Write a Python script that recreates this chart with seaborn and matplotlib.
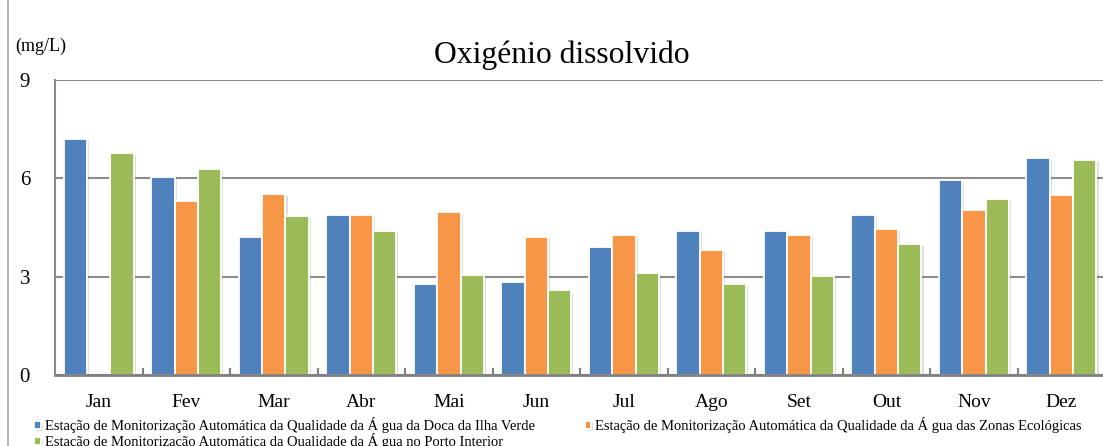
import matplotlib
matplotlib.use("Agg")
import matplotlib.pyplot as plt
import matplotlib.patheffects as pe
from matplotlib.lines import Line2D
import seaborn as sns
import pandas as pd
import numpy as np

# Data (mg/L)
months = ["Jan", "Fev", "Mar", "Abr", "Mai", "Jun",
          "Jul", "Ago", "Set", "Out", "Nov", "Dez"]
stations = [
    "Estação de Monitorização Automática da Qualidade da Á gua da Doca da Ilha Verde",
    "Estação de Monitorização Automática da Qualidade da Á gua das Zonas Ecológicas",
    "Estação de Monitorização Automática da Qualidade da Á gua no Porto Interior",
]
ilha_verde = [7.21, 6.05, 4.21, 4.88, 2.78, 2.84, 3.92, 4.39, 4.39, 4.88, 5.94, 6.62]
zonas_ecologicas = [np.nan, 5.32, 5.53, 4.87, 4.96, 4.21, 4.27, 3.81, 4.26, 4.45, 5.03, 5.50]
porto_interior = [6.77, 6.30, 4.84, 4.39, 3.05, 2.58, 3.12, 2.78, 3.01, 4.00, 5.38, 6.55]
colors = ["#4F81BD", "#F79646", "#9BBB59"]

df = pd.DataFrame({
    "Mês": months * 3,
    "Estação": [s for s in stations for _ in months],
    "valor": ilha_verde + zonas_ecologicas + porto_interior,
})

sns.set_style("white")
plt.rcParams["font.family"] = ["Liberation Serif", "DejaVu Serif"]
plt.rcParams["text.color"] = "black"
plt.rcParams["xtick.labelcolor"] = "black"
plt.rcParams["ytick.labelcolor"] = "black"

fig = plt.figure(figsize=(11.03, 4.46), dpi=100)
ax = fig.add_axes([55 / 1103, 1 - 375 / 446, 1052 / 1103, 295 / 446])

sns.barplot(data=df, x="Mês", y="valor", hue="Estação", palette=colors,
            order=months, hue_order=stations, width=0.8, saturation=1,
            edgecolor="white", linewidth=1.3, errorbar=None, ax=ax)

for bar in ax.patches:
    bar.set_path_effects([pe.SimplePatchShadow(offset=(1.5, -1.5), shadow_rgbFace="#808080", alpha=0.25),
                          pe.Normal()])

ax.set_ylim(0, 9)
ax.set_yticks([0, 3, 6, 9])
ax.set_xlim(-0.5, 11.52)
ax.grid(axis="y", color="#8C8C8C", linewidth=1.5)
ax.set_axisbelow(True)
ax.set_xlabel("")
ax.set_ylabel("")

for side in ["top", "right"]:
    ax.spines[side].set_visible(False)
ax.spines["left"].set_color("#8C8C8C")
ax.spines["left"].set_linewidth(1.5)
ax.spines["bottom"].set_color("#7F7F7F")
ax.spines["bottom"].set_linewidth(2)

ax.tick_params(axis="y", length=0, pad=18, labelsize=15, labelcolor="black")
ax.tick_params(axis="x", which="major", length=0, pad=14, labelsize=14, labelcolor="black")
ax.set_xticks(np.arange(-0.5, 12, 1), minor=True)
ax.tick_params(axis="x", which="minor", bottom=True, direction="in", length=5,
               width=1.5, color="#7F7F7F")

fig.text(15 / 1103, 1 - 46 / 446, "(mg/L)", fontsize=13, va="center", ha="left", color="black")
fig.text(562 / 1103, 1 - 55 / 446, "Oxigénio dissolvido", fontsize=22.8, va="center",
         ha="center", color="black")

# outer chart border
fig.add_artist(Line2D([8 / 1103, 8 / 1103], [0, 1], color="#A6A6A6", linewidth=1.2))

# legend filled row by row: entries 1 and 2 on the first line, 3 on the second
handles, labels = ax.get_legend_handles_labels()
ax.get_legend().remove()
order = [0, 2, 1]
leg = fig.legend([handles[i] for i in order], [labels[i] for i in order],
                 loc="upper left", bbox_to_anchor=(34 / 1103, 1 - 417 / 446),
                 ncol=2, frameon=False, fontsize=10.5, handlelength=0.45, handleheight=0.45,
                 handletextpad=0.3, labelspacing=0.0, columnspacing=3.4,
                 borderpad=0, borderaxespad=0)
for t in leg.get_texts():
    t.set_color("black")

fig.savefig("out.png", dpi=100)
